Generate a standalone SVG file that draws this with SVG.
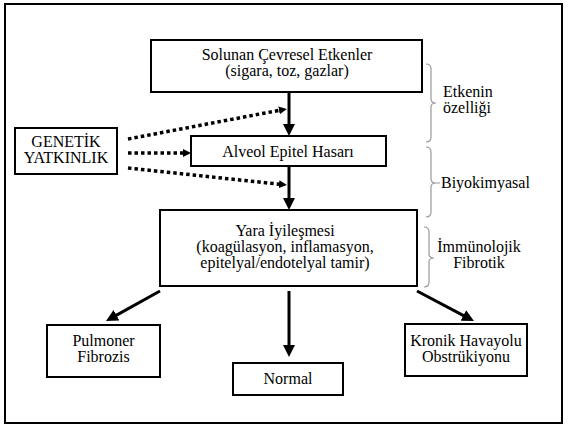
<svg xmlns="http://www.w3.org/2000/svg" width="568" height="426" viewBox="0 0 568 426">
<style>
  .box{fill:#fff;stroke:#000;stroke-width:2}
  text{font-family:'Liberation Serif','Times New Roman','DejaVu Serif',serif;font-size:16px;fill:#000}
  .t{text-anchor:middle}
  .arr{stroke:#000;stroke-width:3;fill:none}
  .dot{stroke:#000;stroke-width:3.5;fill:none;stroke-dasharray:3.5 3}
  .brace{stroke:#9a9a9a;stroke-width:1.2;fill:none}
</style>
<defs>
  <marker id="ah" markerWidth="12" markerHeight="12" refX="4" refY="6" orient="auto" markerUnits="userSpaceOnUse">
    <path d="M0,0 L12,6 L0,12 z" fill="#000"/>
  </marker>
  <marker id="ahs" markerWidth="8" markerHeight="8" refX="2" refY="4" orient="auto" markerUnits="userSpaceOnUse">
    <path d="M0,0 L8,4 L0,8 z" fill="#000"/>
  </marker>
</defs>
<rect x="5" y="4" width="557" height="419" fill="#fff" stroke="#000" stroke-width="2"/>

<g id="connectors">
  <line class="arr" x1="289" y1="92" x2="289" y2="128" marker-end="url(#ah)"/>
  <line class="arr" x1="289" y1="166" x2="289" y2="202" marker-end="url(#ah)"/>
  <line class="arr" x1="289" y1="291" x2="289" y2="349" marker-end="url(#ah)"/>
  <line class="arr" x1="160" y1="291" x2="113" y2="317.1" marker-end="url(#ah)"/>
  <line class="arr" x1="417" y1="291" x2="466.9" y2="317.3" marker-end="url(#ah)"/>
  <line class="dot" x1="128" y1="139" x2="281" y2="110" marker-end="url(#ahs)"/>
  <line class="dot" x1="128" y1="153" x2="185" y2="153" marker-end="url(#ahs)"/>
  <line class="dot" x1="128" y1="168" x2="281" y2="184.4" marker-end="url(#ahs)"/>
</g>

<g id="top">
  <rect class="box" x="151" y="40" width="271" height="52"/>
  <text class="t" x="287" y="60" font-family="Liberation Serif, serif">Solunan Çevresel Etkenler</text>
  <text class="t" x="287" y="76" font-family="Liberation Serif, serif">(sigara, toz, gazlar)</text>
</g>
<g id="genetik">
  <rect class="box" x="15" y="128" width="102" height="46"/>
  <text class="t" x="66" y="147">GENETİK</text>
  <text class="t" x="66" y="163">YATKINLIK</text>
</g>
<g id="alveol">
  <rect class="box" x="191" y="136" width="195" height="30"/>
  <text class="t" x="288" y="157">Alveol Epitel Hasarı</text>
</g>
<g id="yara">
  <rect class="box" x="160" y="210" width="257" height="76"/>
  <text class="t" x="285" y="236">Yara İyileşmesi</text>
  <text class="t" x="285" y="252">(koagülasyon, inflamasyon,</text>
  <text class="t" x="285" y="268">epitelyal/endotelyal tamir)</text>
</g>
<g id="pulmoner">
  <rect class="box" x="47" y="325" width="113" height="52"/>
  <text class="t" x="103.5" y="346">Pulmoner</text>
  <text class="t" x="103.5" y="362">Fibrozis</text>
</g>
<g id="normal">
  <rect class="box" x="233" y="363" width="110" height="32"/>
  <text class="t" x="288" y="384">Normal</text>
</g>
<g id="kronik">
  <rect class="box" x="405" y="324" width="122" height="52"/>
  <text class="t" x="466" y="346">Kronik Havayolu</text>
  <text class="t" x="466" y="362">Obstrükiyonu</text>
</g>

<g id="brace-etken">
  <path class="brace" d="M426,64 Q431,64 431,69 L431,99 Q431,103 436,103 Q431,103 431,107 L431,137 Q431,142 426,142"/>
  <text x="443" y="97">Etkenin</text>
  <text x="443" y="113">özelliği</text>
</g>
<g id="brace-biyo">
  <path class="brace" d="M426,147 Q431,147 431,152 L431,179 Q431,183 436,183 L440,183 M436,183 Q431,183 431,187 L431,212 Q431,217 426,217"/>
  <text x="441" y="188">Biyokimyasal</text>
</g>
<g id="brace-immuno">
  <path class="brace" d="M424,227 Q429,227 429,232 L429,254 Q429,258 434,258 Q429,258 429,262 L429,282 Q429,287 424,287"/>
  <text class="t" x="479" y="252">İmmünolojik</text>
  <text class="t" x="479" y="268">Fibrotik</text>
</g>
</svg>
